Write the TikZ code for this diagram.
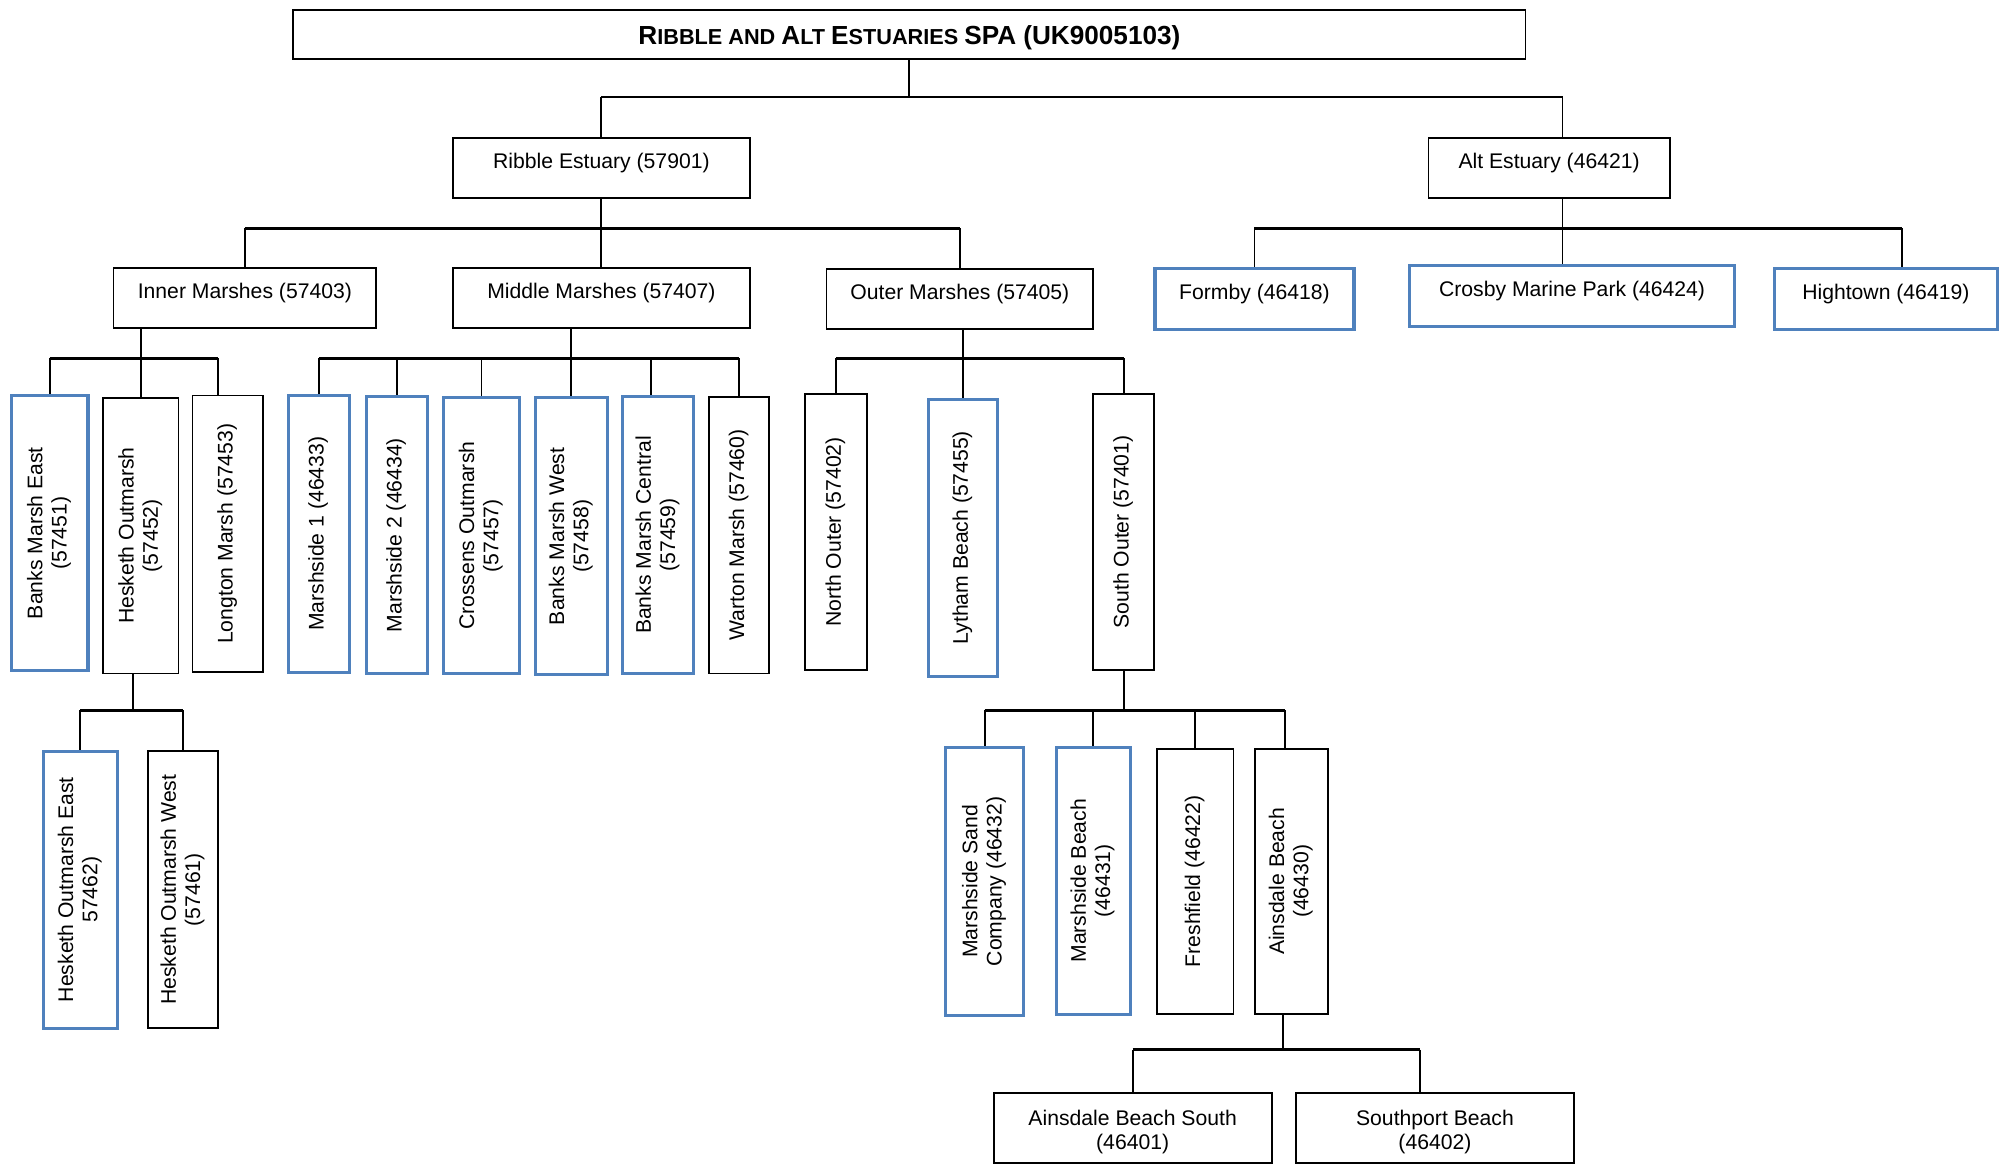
\documentclass[tikz,border=0pt]{standalone}
\usepackage{fontspec}
\setmainfont{Liberation Sans}
\usepackage{graphicx}
\usepackage{tikz}

\definecolor{siteblue}{RGB}{79,129,189}
\newcommand{\vlab}[1]{\rotatebox{90}{\begin{tabular}{@{}c@{}}#1\end{tabular}}}
\newcommand{\vlabone}[1]{\vlab{#1}\hspace{13pt}}
\newcommand{\bigc}[1]{{\fontsize{20.5}{24}\selectfont #1}}

\begin{document}
\begin{tikzpicture}[x=1pt, y=-1pt,
        site/.style = {draw, line width=1.4pt, inner sep=0pt, font=\fontsize{16.6}{19}\selectfont},
        hsite/.style = {site, text height=24pt, text depth=23pt},
        lsite/.style = {site, align=center, minimum height=55},
        bluesite/.style = {draw=siteblue, line width=2.4pt},
        bus/.style = {line width=2pt},
        link/.style = {line width=1.5pt}]
    \useasboundingbox (0,0) rectangle (1568,913);

    % bus levels
    \coordinate (lvA) at (0,76);
    \coordinate (lvB) at (0,179);
    \coordinate (lvC) at (0,281);
    \coordinate (lvD) at (0,557);
    \coordinate (lvE) at (0,823);

    \node[site, minimum width=966, text height=27pt, text depth=11pt] (top) at (713,27)
        {\bfseries\fontsize{17}{20}\selectfont \bigc{R}IBBLE AND \bigc{A}LT \bigc{E}STUARIES \bigc{SPA (UK9005103)}};

    \node[hsite, minimum width=233] (ribble) at (471.5,131.5) {Ribble Estuary (57901)};
    \node[hsite, minimum width=189] (alt) at (1214.5,131.5) {Alt Estuary (46421)};

    \node[hsite, minimum width=206] (inner) at (192,233.5) {Inner Marshes (57403)};
    \node[hsite, minimum width=233] (middle) at (471.5,233.5) {Middle Marshes (57407)};
    \node[hsite, minimum width=209] (outer) at (752.5,234.5) {Outer Marshes (57405)};

    \node[hsite, bluesite, minimum width=156, minimum height=48] (formby) at (983.5,234.5) {Formby (46418)};
    \node[hsite, bluesite, minimum width=255, minimum height=48] (crosby) at (1232.5,232) {Crosby Marine Park (46424)};
    \node[hsite, bluesite, minimum width=175, minimum height=48] (hightown) at (1478.5,234.5) {Hightown (46419)};

    % inner marshes
    \node[site, bluesite, minimum width=60, minimum height=216] (bme) at (39,418) {\vlab{Banks Marsh East\\(57451)}};
    \node[site, minimum width=59, minimum height=216] (ho) at (110.5,420) {\vlab{Hesketh Outmarsh\\(57452)}};
    \node[site, minimum width=55, minimum height=217] (lm) at (178.5,418.5) {\vlabone{Longton Marsh (57453)}};
    \node[site, bluesite, minimum width=58, minimum height=217] (hoe) at (63,697.5) {\vlab{Hesketh Outmarsh East\\57462)}};
    \node[site, minimum width=55, minimum height=217] (how) at (143.5,697.5) {\vlab{Hesketh Outmarsh West\\(57461)}};

    % middle marshes
    \node[site, bluesite, minimum width=48, minimum height=217] (ms1) at (250,418.5) {\vlabone{Marshside 1 (46433)}};
    \node[site, bluesite, minimum width=48, minimum height=217] (ms2) at (311,419.5) {\vlabone{Marshside 2 (46434)}};
    \node[site, bluesite, minimum width=59, minimum height=216] (co) at (377.5,420) {\vlab{Crossens Outmarsh\\(57457)}};
    \node[site, bluesite, minimum width=56, minimum height=217] (bmw) at (448,420.5) {\vlab{Banks Marsh West\\(57458)}};
    \node[site, bluesite, minimum width=56, minimum height=217] (bmc) at (516,419.5) {\vlab{Banks Marsh Central\\(57459)}};
    \node[site, minimum width=47, minimum height=217] (wm) at (579.5,419.5) {\vlabone{Warton Marsh (57460)}};

    % outer marshes
    \node[site, minimum width=49, minimum height=216] (no) at (655.5,417) {\vlabone{North Outer (57402)}};
    \node[site, bluesite, minimum width=54, minimum height=217] (lb) at (755,421.5) {\vlabone{Lytham Beach (57455)}};
    \node[site, minimum width=48, minimum height=216] (so) at (881,417) {\vlabone{South Outer (57401)}};

    \node[site, bluesite, minimum width=61, minimum height=210] (msc) at (772,691) {\vlab{Marshside Sand\\Company (46432)}};
    \node[site, bluesite, minimum width=58, minimum height=209] (mb) at (857,690.5) {\vlab{Marshside Beach\\(46431)}};
    \node[site, minimum width=60, minimum height=208] (ff) at (937,691) {\vlabone{Freshfield (46422)}};
    \node[site, minimum width=57, minimum height=208] (ab) at (1012.5,691) {\vlab{Ainsdale Beach\\(46430)}};

    \node[lsite, minimum width=218] (abs) at (888,884.5) {\rule{0pt}{18.5pt}Ainsdale Beach South\\(46401)};
    \node[lsite, minimum width=218] (sb) at (1125,884.5) {\rule{0pt}{18.5pt}Southport Beach\\(46402)};

    % connector points off the centre
    \coordinate (alttop) at ([xshift=10.5pt]alt.north);
    \coordinate (hitop) at ([xshift=12.5pt]hightown.north);
    \coordinate (lmtop) at ([xshift=-7.5pt]lm.north);
    \coordinate (bmctop) at ([xshift=-5.5pt]bmc.north);
    \coordinate (hobot) at ([xshift=-6.5pt]ho.south);
    \coordinate (abtop) at ([xshift=-5pt]ab.north);
    \coordinate (abbot) at ([xshift=-6.5pt]ab.south);
    \coordinate (sbtop) at ([xshift=-12pt]sb.north);

    % connectors
    \draw[link] (top.south) -- (top.south |- lvA);
    \draw[bus] (ribble.north |- lvA) -- (alttop |- lvA);
    \draw[link] (ribble.north |- lvA) -- (ribble.north);
    \draw[link] (alttop |- lvA) -- (alttop);

    \draw[link] (ribble.south) -- (middle.north);
    \draw[bus] (inner.north |- lvB) -- (outer.north |- lvB);
    \foreach \n in {inner, outer}
        \draw[link] (\n.north |- lvB) -- (\n.north);

    \draw[link] (alttop |- alt.south) -- (alttop |- crosby.north);
    \draw[bus] (formby.north |- lvB) -- (hitop |- lvB);
    \foreach \n in {formby.north, hitop}
        \draw[link] (\n |- lvB) -- (\n);

    \draw[link] (inner.south -| ho.north) -- (ho.north);
    \draw[bus] (bme.north |- lvC) -- (lmtop |- lvC);
    \foreach \n in {bme.north, lmtop}
        \draw[link] (\n |- lvC) -- (\n);

    \draw[link] (middle.south -| bmw.north) -- (bmw.north);
    \draw[bus] (ms1.north |- lvC) -- (wm.north |- lvC);
    \foreach \n in {ms1.north, ms2.north, co.north, bmctop, wm.north}
        \draw[link] (\n |- lvC) -- (\n);

    \draw[link] (outer.south -| lb.north) -- (lb.north);
    \draw[bus] (no.north |- lvC) -- (so.north |- lvC);
    \foreach \n in {no, so}
        \draw[link] (\n.north |- lvC) -- (\n.north);

    \draw[link] (hobot) -- (hobot |- lvD);
    \draw[bus] (hoe.north |- lvD) -- (how.north |- lvD);
    \foreach \n in {hoe, how}
        \draw[link] (\n.north |- lvD) -- (\n.north);

    \draw[link] (so.south) -- (so.south |- lvD);
    \draw[bus] (msc.north |- lvD) -- (abtop |- lvD);
    \foreach \n in {msc.north, mb.north, ff.north, abtop}
        \draw[link] (\n |- lvD) -- (\n);

    \draw[link] (abbot) -- (abbot |- lvE);
    \draw[bus] (abs.north |- lvE) -- (sbtop |- lvE);
    \foreach \n in {abs.north, sbtop}
        \draw[link] (\n |- lvE) -- (\n);
\end{tikzpicture}
\end{document}
